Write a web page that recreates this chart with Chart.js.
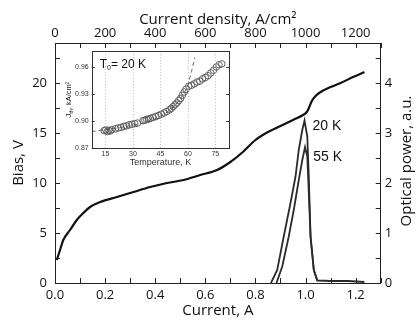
<!DOCTYPE html>
<html>
<head>
<meta charset="utf-8">
<script src="https://cdn.jsdelivr.net/npm/chart.js@4.4.0/dist/chart.umd.min.js"></script>
<style>
  html, body { margin: 0; padding: 0; background: #fff; }
  #wrap { position: relative; width: 417px; height: 320px; }
  #main { position: absolute; left: 0; top: 0; }
  #inset { position: absolute; left: 58px; top: 44px; }
</style>
</head>
<body>
<div id="wrap">
  <canvas id="main" width="417" height="320"></canvas>
  <canvas id="inset" width="176" height="126"></canvas>
</div>
<script>
// bias vs current (left axis)
const biasCurrent = [0.007, 0.02, 0.033, 0.06, 0.087, 0.113, 0.14, 0.18, 0.247, 0.313, 0.38, 0.447, 0.513, 0.58, 0.647, 0.70, 0.75, 0.80, 0.85, 0.90, 0.95, 0.99, 1.005, 1.015, 1.025, 1.04, 1.06, 1.10, 1.14, 1.19, 1.235];
const biasVolts   = [2.3, 3.3, 4.3, 5.3, 6.3, 7.0, 7.6, 8.1, 8.6, 9.1, 9.6, 10.0, 10.3, 10.8, 11.3, 12.1, 13.1, 14.3, 15.1, 15.7, 16.3, 16.8, 17.1, 17.6, 18.2, 18.7, 19.1, 19.6, 20.0, 20.6, 21.1];

// optical power (right axis)
const p20Current = [0.862, 0.887, 0.913, 0.94, 0.96, 0.973, 0.987, 0.996, 1.007, 1.013, 1.02, 1.033, 1.047, 1.10, 1.17, 1.235];
const p20Power   = [0, 0.26, 0.93, 1.6, 2.13, 2.66, 3.06, 3.25, 2.93, 2.13, 0.93, 0.26, 0.05, 0.04, 0.04, 0.02];
const p55Current = [0.884, 0.907, 0.933, 0.953, 0.973, 0.987, 0.998, 1.007, 1.013, 1.02, 1.033, 1.047];
const p55Power   = [0, 0.33, 0.93, 1.46, 2.06, 2.46, 2.72, 2.53, 1.8, 0.93, 0.26, 0.05];

const peakNames   = ['20 K', '55 K'];
const peakCurrent = [1.028, 1.031];
const peakPower   = [3.14, 2.52];

const currentTicks = [0, 0.2, 0.4, 0.6, 0.8, 1.0, 1.2];
const densityTicks = [0, 200, 400, 600, 800, 1000, 1200];
const biasTicks    = [0, 5, 10, 15, 20];
const powerTicks   = [0, 1, 2, 3, 4];

// inset: threshold current density vs temperature
const insetTemp = [14.3, 15.2, 16.0, 16.8, 17.6, 18.5, 20.5, 22.0, 23.5, 25.0, 26.5, 28.0, 29.5, 31.0, 32.5, 35.5, 36.5, 37.5, 38.5, 39.5, 41.0, 42.5, 44.0, 45.5, 47.0, 48.5, 50.0, 51.0, 52.0, 53.0, 54.0, 55.0, 56.0, 57.0, 58.0, 59.0, 60.5, 62.0, 63.5, 65.0, 66.5, 68.0, 69.5, 71.0, 72.5, 74.0, 75.5, 77.0, 78.5];
const insetJth  = [0.8895, 0.8902, 0.8885, 0.8898, 0.8890, 0.8905, 0.8915, 0.8925, 0.8930, 0.8942, 0.8948, 0.8958, 0.8965, 0.8972, 0.8978, 0.9005, 0.9010, 0.9018, 0.9022, 0.9030, 0.9040, 0.9050, 0.9062, 0.9075, 0.9090, 0.9105, 0.9125, 0.9140, 0.9160, 0.9180, 0.9200, 0.9225, 0.9250, 0.9285, 0.9320, 0.9350, 0.9385, 0.9395, 0.9410, 0.9430, 0.9440, 0.9465, 0.9480, 0.9500, 0.9530, 0.9560, 0.9595, 0.9620, 0.9630];
const fitTemp = [7.5, 15, 22, 30, 38, 45, 50, 54, 57, 60, 62, 63.8];
const fitJth  = [0.8885, 0.8905, 0.8925, 0.8955, 0.899, 0.9055, 0.912, 0.920, 0.928, 0.940, 0.955, 0.970];
const tempTicks = [15, 30, 45, 60, 75];
const jthTicks  = [0.87, 0.90, 0.93, 0.96];

const pts = (xs, ys) => xs.map((x, i) => ({ x: x, y: ys[i] }));
const ink = '#111';
const mainFont = 'Open Sans';
const insetFont = 'Liberation Sans';

// inward tick marks, optional dotted grid and frame
const frameTicks = {
  id: 'frameTicks',
  afterDatasetsDraw(chart, args, opts) {
    const { ctx, chartArea: a } = chart;
    ctx.save();
    (opts.grid || []).forEach(([id, values]) => {
      const s = chart.scales[id];
      ctx.strokeStyle = '#9a9a9a';
      ctx.lineWidth = 0.7;
      ctx.setLineDash([1, 2]);
      values.forEach(v => {
        const p = Math.round(s.getPixelForValue(v)) + 0.5;
        ctx.beginPath();
        ctx.moveTo(p, a.top);
        ctx.lineTo(p, a.bottom);
        ctx.stroke();
      });
    });
    ctx.setLineDash([]);
    ctx.strokeStyle = opts.color;
    ctx.lineWidth = 1;
    ctx.beginPath();
    opts.marks.forEach(([id, side, step, len]) => {
      const s = chart.scales[id];
      const first = Math.ceil(s.min / step - 1e-6);
      const last = Math.floor(s.max / step + 1e-6);
      for (let i = first; i <= last; i++) {
        const p = Math.round(s.getPixelForValue(i * step)) + 0.5;
        if (side === 'left') { ctx.moveTo(a.left, p); ctx.lineTo(a.left + len, p); }
        if (side === 'right') { ctx.moveTo(a.right, p); ctx.lineTo(a.right - len, p); }
        if (side === 'top') { ctx.moveTo(p, a.top); ctx.lineTo(p, a.top + len); }
        if (side === 'bottom') { ctx.moveTo(p, a.bottom); ctx.lineTo(p, a.bottom - len); }
      }
    });
    ctx.stroke();
    if (opts.frame) {
      ctx.strokeRect(Math.round(a.left) + 0.5, Math.round(a.top) + 0.5, Math.round(a.right - a.left), Math.round(a.bottom - a.top));
    }
    ctx.restore();
  }
};

// curve names and the right axis title (reads bottom to top)
const mainText = {
  id: 'mainText',
  afterDatasetsDraw(chart) {
    const { ctx, scales, chartArea: a } = chart;
    ctx.save();
    ctx.font = '14px ' + insetFont;
    ctx.fillStyle = ink;
    ctx.textBaseline = 'middle';
    peakNames.forEach((t, i) => {
      ctx.fillText(t, scales.x.getPixelForValue(peakCurrent[i]), scales.y2.getPixelForValue(peakPower[i]));
    });
    ctx.font = '15px ' + mainFont;
    ctx.textAlign = 'center';
    ctx.translate(chart.width - 10, (a.top + a.bottom) / 2 - 2);
    ctx.rotate(-Math.PI / 2);
    ctx.fillText('Optical power, a.u.', 0, 0);
    ctx.restore();
  }
};

const axisTitle = (text, pad) => ({ display: true, text: text, color: ink, font: { family: mainFont, size: 15 }, padding: pad });
const tickFont = { family: mainFont, size: 13 };

new Chart(document.getElementById('main'), {
  type: 'line',
  data: {
    datasets: [
      { data: pts(biasCurrent, biasVolts), xAxisID: 'x', yAxisID: 'y', borderColor: '#111', borderWidth: 2.2, pointRadius: 0, cubicInterpolationMode: 'monotone' },
      { data: pts(p20Current, p20Power), xAxisID: 'x', yAxisID: 'y2', borderColor: '#2b2b2b', borderWidth: 1.8, pointRadius: 0, tension: 0 },
      { data: pts(p55Current, p55Power), xAxisID: 'x', yAxisID: 'y2', borderColor: '#2b2b2b', borderWidth: 1.8, pointRadius: 0, tension: 0 }
    ]
  },
  options: {
    responsive: false,
    animation: false,
    layout: { padding: 0 },
    plugins: {
      legend: { display: false },
      tooltip: { enabled: false },
      frameTicks: {
        color: '#222',
        marks: [
          ['x', 'bottom', 0.1, 5], ['x2', 'top', 100, 5],
          ['y', 'left', 2.5, 5], ['y2', 'right', 0.5, 5]
        ]
      }
    },
    scales: {
      x: {
        type: 'linear', position: 'bottom', min: 0, max: 1.3,
        afterBuildTicks: s => { s.ticks = currentTicks.map(v => ({ value: v })); },
        afterFit: s => { s.height = 37; },
        ticks: { font: tickFont, color: ink, padding: 4, autoSkip: false, maxRotation: 0, callback: v => v.toFixed(1) },
        title: axisTitle('Current, A', { top: 0, bottom: 0 }),
        grid: { display: false, drawTicks: false },
        border: { color: '#222', width: 1 }
      },
      x2: {
        type: 'linear', position: 'top', min: 0, max: 1300,
        afterBuildTicks: s => { s.ticks = densityTicks.map(v => ({ value: v })); },
        afterFit: s => { s.height = 43; },
        ticks: { font: tickFont, color: ink, padding: 2, autoSkip: false, maxRotation: 0, callback: v => String(v) },
        title: axisTitle('Current density, A/cm²', { top: 11, bottom: 0 }),
        grid: { display: false, drawTicks: false },
        border: { color: '#222', width: 1 }
      },
      y: {
        type: 'linear', position: 'left', min: 0, max: 24,
        afterBuildTicks: s => { s.ticks = biasTicks.map(v => ({ value: v })); },
        afterFit: s => { s.width = 55; },
        ticks: { font: tickFont, color: ink, padding: 8, autoSkip: false },
        title: axisTitle('Bias, V', { top: 10, bottom: 0 }),
        grid: { display: false, drawTicks: false },
        border: { color: '#222', width: 1 }
      },
      y2: {
        type: 'linear', position: 'right', min: 0, max: 4.8,
        afterBuildTicks: s => { s.ticks = powerTicks.map(v => ({ value: v })); },
        afterFit: s => { s.width = 36.3; },
        ticks: { font: tickFont, color: ink, padding: 4, autoSkip: false },
        title: { display: false },
        grid: { display: false, drawTicks: false },
        border: { color: '#222', width: 1 }
      }
    }
  },
  plugins: [frameTicks, mainText]
});

// inset labels with subscripts
const insetText = {
  id: 'insetText',
  afterDatasetsDraw(chart) {
    const { ctx, chartArea: a } = chart;
    ctx.save();
    ctx.fillStyle = ink;
    ctx.textBaseline = 'alphabetic';
    let x = a.left + 8, y = a.top + 16.5;
    ctx.font = '12px ' + insetFont;
    ctx.fillText('T', x, y); x += ctx.measureText('T').width;
    ctx.font = '7px ' + insetFont;
    ctx.fillText('0', x, y + 2.5); x += ctx.measureText('0').width;
    ctx.font = '12px ' + insetFont;
    ctx.fillText('= 20 K', x, y);

    ctx.translate(13, (a.top + a.bottom) / 2);
    ctx.rotate(-Math.PI / 2);
    const parts = [['J', 8, 0], ['th', 5.5, 2], [', kA/cm²', 7.5, 0]];
    let w = 0;
    parts.forEach(([t, sz]) => { ctx.font = sz + 'px ' + insetFont; w += ctx.measureText(t).width; });
    let px = -w / 2;
    parts.forEach(([t, sz, dy]) => {
      ctx.font = sz + 'px ' + insetFont;
      ctx.fillText(t, px, dy);
      px += ctx.measureText(t).width;
    });
    ctx.restore();
  }
};

new Chart(document.getElementById('inset'), {
  type: 'scatter',
  data: {
    datasets: [
      { data: pts(insetTemp, insetJth), pointStyle: 'circle', pointRadius: 3.3, borderColor: '#555', borderWidth: 0.9, backgroundColor: 'rgba(255,255,255,0)' },
      { type: 'line', data: pts(fitTemp, fitJth), borderColor: '#444', borderWidth: 0.8, borderDash: [4, 3], pointRadius: 0, cubicInterpolationMode: 'monotone' }
    ]
  },
  options: {
    responsive: false,
    animation: false,
    layout: { padding: { top: 3.3, right: 3.3, left: 0, bottom: 0 } },
    plugins: {
      legend: { display: false },
      tooltip: { enabled: false },
      frameTicks: {
        color: '#333',
        frame: true,
        grid: [['x', tempTicks]],
        marks: [['y', 'left', 0.03, 3], ['y', 'right', 0.03, 3]]
      }
    },
    scales: {
      x: {
        type: 'linear', min: 7.5, max: 82.5,
        afterBuildTicks: s => { s.ticks = tempTicks.map(v => ({ value: v })); },
        afterFit: s => { s.height = 21.7; },
        ticks: { font: { family: insetFont, size: 7 }, color: '#333', padding: 2, autoSkip: false, maxRotation: 0 },
        title: { display: true, text: 'Temperature, K', color: '#333', font: { family: insetFont, size: 9 }, padding: { top: 0, bottom: 2 } },
        grid: { display: false, drawTicks: false },
        border: { display: false }
      },
      y: {
        type: 'linear', min: 0.87, max: 0.977,
        afterBuildTicks: s => { s.ticks = jthTicks.map(v => ({ value: v })); },
        afterFit: s => { s.width = 33.7; },
        ticks: { font: { family: insetFont, size: 7 }, color: '#333', padding: 3, autoSkip: false, callback: v => v.toFixed(2) },
        grid: { display: false, drawTicks: false },
        border: { display: false }
      }
    }
  },
  plugins: [frameTicks, insetText]
});
</script>
</body>
</html>
